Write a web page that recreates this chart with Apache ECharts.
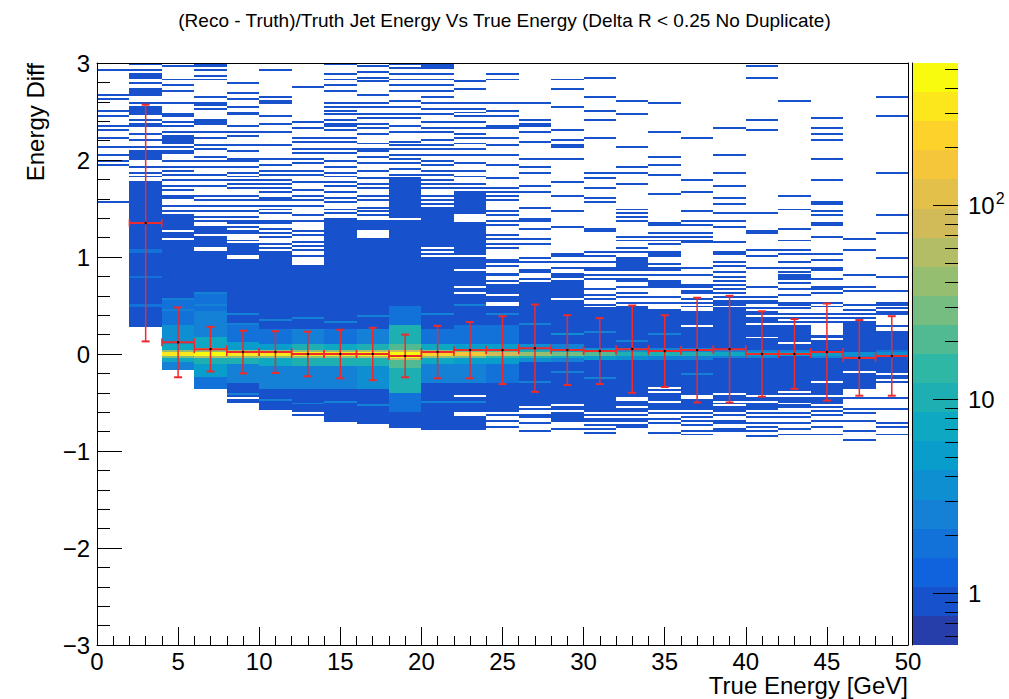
<!DOCTYPE html>
<html><head><meta charset="utf-8">
<script src="https://cdn.jsdelivr.net/npm/echarts@6/dist/echarts.min.js"></script>
<style>html,body{margin:0;padding:0;background:#fff}#c{width:1009px;height:699px}</style>
</head><body><div id="c"></div>
<script>
const FONT = "'Liberation Sans', Arial, Helvetica, sans-serif";

// ---- binning ----
const xBinLow = [0,2,4,6,8,10,12,14,16,18,20,22,24,26,28,30,32,34,36,38,40,42,44,46,48];
const X_BIN_WIDTH = 2;
const Y_BIN_WIDTH = 0.02;
const xRange = [0, 50];
const yRange = [-3, 3];

// ---- 2D histogram content (per x bin) ----
// solid region filled with 1 entry per y bin
const solidRange = [
  null,[0.28,1.77],[-0.15,1.40],[-0.36,1.30],[-0.50,1.12],[-0.58,1.04],[-0.64,0.88],[-0.69,1.39],
  [-0.71,1.35],[-0.75,1.80],[-0.77,1.51],[-0.77,1.66],[-0.64,0.70],[-0.66,0.73],[-0.70,0.74],
  [-0.70,0.44],[-0.60,0.49],[-0.55,0.45],[-0.58,0.43],[-0.60,0.50],[-0.58,0.36],[-0.50,0.26],
  [-0.50,0.12],[-0.33,0.30],[-0.26,0.22]
];
// empty y bins inside the solid region
const gapLines = [
  [],[],[1.26,1.18],[1.22,1.08,1.06,-0.34],[1.01,0.98,-0.46],[],[-0.62],[],
  [1.26,1.24,1.22,1.20],[1.38],[1.08,1.04,1.00],[1.42,1.40,1.38,1.36,1.00,0.86,0.69,0.63,-0.43,-0.62,-0.64],
  [0.61,0.52,0.50,-0.62],[-0.55,-0.59,-0.61],[0.57,-0.53,-0.60],[-0.62,-0.66],[-0.45,-0.47,-0.55],
  [-0.36,-0.40,-0.50],[0.29,-0.43,-0.46],[0.48,-0.41,-0.50,-0.54],[0.31,0.17,-0.43,-0.50],
  [0.10,-0.40,-0.44],[-0.30,-0.43],[-0.20],[-0.22]
];
// isolated single-entry y bins
const sparseLines = [
  [2.92,2.66,2.62,2.51,2.44,2.35,2.30,2.22,2.13,2.04,1.99,1.94,1.56],
  [2.99,2.93,2.88,2.86,2.84,2.78,2.72,2.70,2.68,2.66,2.59,2.55,2.53,2.51,2.49,2.47,2.41,2.37,2.34,2.27,2.21,2.13,2.09,2.07,2.05,2.03,2.01,1.92,1.86,1.82],
  [2.97,2.82,2.77,2.70,2.58,2.47,2.44,2.39,2.35,2.29,2.24,2.22,2.20,2.18,2.16,2.13,2.08,2.06,1.98,1.92,1.89,1.84,1.79,1.72,1.68,1.63,1.60,1.53,1.46,1.43],
  [2.99,2.97,2.92,2.87,2.82,2.65,2.59,2.56,2.53,2.40,2.38,2.36,2.29,2.23,2.15,2.10,2.03,1.98,1.92,1.85,1.79,1.72,1.63,1.58,1.53,1.46,1.41,1.36],
  [2.78,2.68,2.63,2.54,2.49,2.46,2.35,2.29,2.25,2.15,2.08,2.01,1.98,1.92,1.87,1.82,1.79,1.74,1.70,1.63,1.58,1.53,1.46,1.41,1.37,1.34,1.30,1.27,1.24,1.17],
  [2.92,2.65,2.61,2.58,2.44,2.37,2.29,2.15,2.01,1.94,1.89,1.84,1.79,1.74,1.70,1.67,1.61,1.58,1.53,1.49,1.44,1.37,1.34,1.29,1.24,1.20,1.12,1.08],
  [2.75,2.39,2.32,2.23,2.18,2.11,2.06,2.01,1.96,1.89,1.84,1.77,1.68,1.63,1.58,1.53,1.43,1.36,1.27,1.22,1.15,1.10,1.06,1.01,0.91],
  [2.99,2.89,2.83,2.77,2.70,2.59,2.54,2.51,2.46,2.40,2.37,2.34,2.30,2.23,2.18,2.11,2.06,1.99,1.92,1.87,1.82,1.77,1.72,1.67,1.61,1.56,1.49,1.44],
  [2.97,2.90,2.85,2.80,2.66,2.59,2.54,2.47,2.42,2.37,2.32,2.27,2.17,2.11,2.08,2.03,1.96,1.89,1.80,1.75,1.70,1.63,1.58,1.51,1.46,1.43,1.37],
  [2.99,2.94,2.89,2.83,2.77,2.70,2.61,2.54,2.47,2.42,2.35,2.29,2.18,2.15,2.10,2.04,2.01,1.96,1.91,1.84],
  [2.99,2.97,2.95,2.89,2.83,2.77,2.70,2.65,2.58,2.53,2.46,2.39,2.32,2.29,2.20,2.15,2.10,2.04,1.99,1.94,1.89,1.84,1.79,1.74,1.70,1.63,1.58,1.55],
  [2.80,2.73,2.59,2.53,2.49,2.44,2.39,2.32,2.27,2.22,2.16,2.10,2.04,1.96,1.89,1.82,1.75,1.70],
  [2.89,2.82,2.59,2.50,2.44,2.35,2.32,2.23,2.14,2.05,1.94,1.80,1.70,1.67,1.62,1.58,1.46,1.43,1.36,1.32,1.22,1.19,1.12,1.09,0.96,0.94,0.91,0.82,0.81,0.74,-0.70,-0.76],
  [2.58,2.41,2.37,2.34,2.28,2.18,2.01,1.92,1.86,1.73,1.67,1.51,1.39,1.36,1.29,1.19,1.12,0.98,0.95,0.86,0.84,0.77,-0.72,-0.79],
  [2.82,2.72,2.54,2.31,2.21,2.14,2.12,2.00,1.77,1.63,1.46,1.31,1.03,1.00,0.95,0.88,0.82,0.80,0.78,-0.77],
  [2.85,2.65,2.50,2.41,2.22,1.87,1.80,1.70,1.60,1.56,1.28,1.26,1.05,1.01,0.95,0.89,0.86,0.81,0.77,0.67,0.60,0.57,0.50,0.46,-0.74,-0.78,-0.81],
  [2.60,2.46,2.12,1.92,1.86,1.74,1.49,1.44,1.41,1.36,1.21,1.17,1.08,1.05,0.98,0.96,0.94,0.92,0.90,0.88,0.86,0.81,0.77,0.74,0.69,0.62,0.58,0.52,-0.63,-0.67,-0.70,-0.73,-0.76],
  [2.59,2.28,2.02,1.95,1.85,1.64,1.35,1.32,1.24,1.20,1.17,1.12,1.04,1.02,1.00,0.93,0.89,0.86,0.81,0.74,0.72,0.70,0.68,0.58,0.52,-0.58,-0.62,-0.68,-0.72,-0.82],
  [2.22,1.79,1.67,1.46,1.37,1.32,1.24,1.20,1.17,1.14,0.89,0.81,0.70,0.68,0.65,0.62,0.56,0.52,0.48,-0.62,-0.65,-0.70,-0.74,-0.79,-0.84],
  [2.33,2.05,1.87,1.72,1.60,1.54,1.45,1.36,1.31,1.15,1.04,1.02,0.94,0.90,0.85,0.78,0.74,0.70,0.67,0.62,0.58,0.55,0.53,-0.64,-0.69,-0.72,-0.77,-0.80],
  [2.97,2.85,2.40,2.30,1.44,1.26,1.24,1.06,1.01,0.88,0.69,0.58,0.55,0.53,0.46,0.43,0.40,-0.62,-0.66,-0.71,-0.75,-0.80,-0.86],
  [2.60,1.62,1.48,1.29,1.17,1.07,1.03,0.94,0.88,0.84,0.81,0.79,0.77,0.72,0.67,0.60,0.53,0.50,0.46,0.40,0.36,0.33,0.28,-0.53,-0.56,-0.61,-0.66,-0.71,-0.77,-0.84],
  [2.43,2.33,2.27,2.20,2.00,1.79,1.56,1.55,1.47,1.43,1.35,1.32,1.20,1.02,0.96,0.89,0.86,0.76,0.69,0.67,0.62,0.53,0.48,0.40,0.36,0.33,0.19,0.16,-0.52,-0.55,-0.60,-0.64,-0.70,-0.76,-0.84],
  [1.19,1.07,0.81,0.69,0.68,0.65,0.50,0.45,0.40,0.36,0.33,-0.36,-0.46,-0.57,-0.62,-0.70,-0.79,-0.89],
  [2.64,2.44,1.87,1.43,1.24,0.98,0.79,0.64,0.53,0.50,0.46,0.43,0.40,0.29,-0.29,-0.46,-0.57,-0.72,-0.76,-0.84]
];
// [yLow, yHigh, entries per y bin] for the denser parts
const coreBands = [
  [],
  [[1.04,1.08,2],[0.48,0.52,2],[0.78,0.80,2]],
  [[0.56,0.58,3],[0.44,0.46,3],[0.30,0.56,2],[0.10,0.30,4],[0.04,0.10,8],[0.02,0.04,35],[-0.02,0.02,300],[-0.04,-0.02,30],[-0.08,-0.04,7],[-0.16,-0.08,3]],
  [[0.62,0.64,3],[0.50,0.52,3],[0.44,0.62,2],[0.18,0.44,3],[0.06,0.18,8],[0.02,0.06,40],[-0.02,0.02,450],[-0.04,-0.02,60],[-0.10,-0.04,12],[-0.24,-0.10,5],[-0.36,-0.24,2]],
  [[0.40,0.42,3],[0.30,0.32,3],[0.12,0.30,2],[0.04,0.12,6],[0.02,0.04,40],[-0.02,0.02,380],[-0.04,-0.02,45],[-0.10,-0.04,9],[-0.30,-0.10,3],[-0.42,-0.40,3]],
  [[0.34,0.36,3],[0.10,0.26,2],[0.04,0.10,6],[0.02,0.04,40],[-0.02,0.02,320],[-0.04,-0.02,40],[-0.12,-0.04,8],[-0.36,-0.12,3],[-0.48,-0.46,3]],
  [[0.36,0.38,3],[0.10,0.26,3],[0.04,0.10,9],[0.02,0.04,45],[-0.02,0.02,320],[-0.04,-0.02,45],[-0.12,-0.04,10],[-0.36,-0.12,3],[-0.52,-0.50,3]],
  [[0.32,0.34,3],[0.10,0.26,2],[0.04,0.10,7],[0.02,0.04,40],[-0.02,0.02,300],[-0.04,-0.02,40],[-0.12,-0.04,9],[-0.36,-0.12,3],[-0.50,-0.48,3]],
  [[0.38,0.40,3],[0.10,0.26,3],[0.04,0.10,10],[0.02,0.04,60],[-0.02,0.02,420],[-0.04,-0.02,60],[-0.12,-0.04,12],[-0.36,-0.12,4],[-0.54,-0.52,3]],
  [[0.30,0.50,2],[0.10,0.30,10],[0.04,0.10,22],[0.02,0.04,90],[-0.04,0.02,480],[-0.06,-0.04,90],[-0.14,-0.06,22],[-0.40,-0.14,10],[-0.60,-0.40,2]],
  [[0.40,0.42,3],[0.10,0.26,2],[0.04,0.10,7],[0.02,0.04,40],[-0.02,0.02,260],[-0.04,-0.02,35],[-0.10,-0.04,7],[-0.30,-0.10,3],[-0.50,-0.48,3]],
  [[0.10,0.30,2],[0.04,0.10,6],[0.02,0.04,30],[-0.02,0.02,160],[-0.04,-0.02,25],[-0.10,-0.04,6],[-0.30,-0.10,3],[0.50,0.52,3],[-0.50,-0.48,3]],
  [[0.10,0.30,2],[0.04,0.10,5],[0.02,0.04,20],[-0.02,0.02,90],[-0.04,-0.02,15],[-0.10,-0.04,5],[-0.30,-0.10,2],[0.40,0.42,3]],
  [[0.04,0.10,4],[0.02,0.04,10],[-0.02,0.02,40],[-0.04,-0.02,10],[-0.08,-0.04,4],[0.30,0.32,3],[-0.30,-0.28,3]],
  [[0.04,0.10,3],[0.02,0.04,8],[-0.02,0.02,25],[-0.04,-0.02,8],[-0.08,-0.04,3],[0.20,0.22,4],[-0.20,-0.18,3]],
  [[0.02,0.06,4],[-0.02,0.02,18],[-0.06,-0.02,5],[0.22,0.24,3],[-0.26,-0.24,3]],
  [[0.02,0.06,4],[-0.02,0.02,12],[-0.06,-0.02,4],[0.12,0.14,3]],
  [[0.02,0.06,3],[-0.02,0.02,10],[-0.06,-0.02,3],[0.20,0.22,3]],
  [[0.02,0.06,3],[-0.02,0.02,9],[-0.06,-0.02,3],[-0.22,-0.20,3]],
  [[0.02,0.04,3],[-0.02,0.02,7],[-0.04,-0.02,3]],
  [[0.02,0.04,3],[-0.02,0.02,6],[-0.04,-0.02,3]],
  [[-0.02,0.02,5],[0.02,0.04,3]],
  [[-0.02,0.02,5],[-0.04,-0.02,3]],
  [[-0.02,0.02,4],[-0.04,-0.02,3]],
  [[-0.02,0.02,4],[0.02,0.04,2]]
];

// ---- profile (red points) ----
const profileX    = [3,5,7,9,11,13,15,17,19,21,23,25,27,29,31,33,35,37,39,41,43,45,47,49];
const profileMean = [1.35,0.12,0.05,0.02,0.02,0.00,0.00,0.00,-0.02,0.02,0.04,0.04,0.06,0.04,0.03,0.05,0.03,0.04,0.05,0.00,0.00,0.02,-0.04,-0.02];
const profileErr  = [1.22,0.36,0.23,0.22,0.215,0.23,0.25,0.27,0.22,0.27,0.29,0.35,0.45,0.36,0.34,0.45,0.37,0.54,0.55,0.44,0.36,0.50,0.39,0.41];

// ---- colour scale ----
const zRange = [0.54, 540];
const zBands = 20;
const zMajorTicks = [1, 10, 100];
const zMinorTicks = [0.6,0.7,0.8,0.9,2,3,4,5,6,7,8,9,20,30,40,50,60,70,80,90,200,300,400,500];
const zTickLabels = {1:'1', 10:'10', 100:'10{sup|2}'};

// kBird palette
const birdStops=[0,0.125,0.25,0.375,0.5,0.625,0.75,0.875,1];
const birdR=[0.2082,0.0592,0.0780,0.0232,0.1802,0.5301,0.8186,0.9956,0.9764];
const birdG=[0.1664,0.3599,0.5041,0.6419,0.7178,0.7492,0.7328,0.7862,0.9832];
const birdB=[0.5293,0.8684,0.8385,0.7914,0.6425,0.4662,0.3499,0.1968,0.0539];
function bird(p){
  p=Math.max(0,Math.min(1,p));
  let i=0; while(i<birdStops.length-2 && p>birdStops[i+1]) i++;
  const t=(p-birdStops[i])/(birdStops[i+1]-birdStops[i]);
  const f=a=>Math.round(255*(a[i]+t*(a[i+1]-a[i])));
  return 'rgb('+f(birdR)+','+f(birdG)+','+f(birdB)+')';
}
const lzMin=Math.log10(zRange[0]), lzMax=Math.log10(zRange[1]);
function bandColor(i){ return bird((i+1)/zBands); }
function countColor(c){
  let b=Math.floor((Math.log10(c)-lzMin)/((lzMax-lzMin)/zBands));
  b=Math.max(0,Math.min(zBands-1,b));
  return bandColor(b);
}

// ---- build cells ----
const NY = Math.round((yRange[1]-yRange[0])/Y_BIN_WIDTH);
function yIdx(y){ return Math.floor((y-yRange[0])/Y_BIN_WIDTH + 1e-6); }
const cellRuns=[];
xBinLow.forEach((x0,ci)=>{
  const col=new Array(NY).fill(0);
  const s=solidRange[ci];
  if(s) for(let k=yIdx(s[0]);k<=yIdx(s[1]);k++) col[k]=1;
  gapLines[ci].forEach(y=>{col[yIdx(y)]=0;});
  sparseLines[ci].forEach(y=>{const k=yIdx(y); col[k]=Math.max(col[k],1);});
  // later bands never overwrite an earlier band of the same column
  const set=new Array(NY).fill(false);
  coreBands[ci].forEach(([a,b,c])=>{for(let k=yIdx(a);k<yIdx(b);k++){ if(!set[k]){col[k]=c;set[k]=true;} }});
  let k=0;
  while(k<NY){
    if(!col[k]){k++;continue;}
    let e=k; while(e+1<NY && col[e+1]===col[k]) e++;
    cellRuns.push([x0,x0+X_BIN_WIDTH,yRange[0]+k*Y_BIN_WIDTH,yRange[0]+(e+1)*Y_BIN_WIDTH,col[k]]);
    k=e+1;
  }
});
const profileData=profileX.map((x,i)=>[x,profileMean[i],profileErr[i]]);
const bandData=[]; for(let i=0;i<zBands;i++) bandData.push([i]);
const zTickData=zMajorTicks.map(v=>[v,1]).concat(zMinorTicks.map(v=>[v,0]));

const chart=echarts.init(document.getElementById('c'),null,{renderer:'svg'});
const axisBlack={color:'#000',width:1};
const RED='#ef2a2a';
chart.setOption({
  animation:false,
  backgroundColor:'#fff',
  title:{text:'(Reco - Truth)/Truth Jet Energy Vs True Energy (Delta R < 0.25 No Duplicate)',
    left:'center',top:6,textStyle:{fontSize:19,fontWeight:'normal',fontFamily:FONT,color:'#000'}},
  grid:[{left:97,top:63,width:811,height:582},{left:912,top:63,width:46,height:582}],
  xAxis:[
    {gridIndex:0,type:'value',min:xRange[0],max:xRange[1],interval:5,position:'bottom',z:10,
     axisLine:{show:true,onZero:false,lineStyle:axisBlack},
     axisTick:{show:true,inside:true,length:18,lineStyle:axisBlack},
     minorTick:{show:true,splitNumber:5,length:9,lineStyle:axisBlack},
     splitLine:{show:false},
     axisLabel:{fontSize:24,lineHeight:22,color:'#000',fontFamily:FONT,margin:5}},
    {gridIndex:0,type:'value',min:xRange[0],max:xRange[1],position:'top',z:10,
     axisLine:{show:true,onZero:false,lineStyle:axisBlack},axisTick:{show:false},axisLabel:{show:false},splitLine:{show:false}},
    {gridIndex:1,type:'value',min:0,max:1,show:false}
  ],
  yAxis:[
    {gridIndex:0,type:'value',min:yRange[0],max:yRange[1],interval:1,position:'left',z:10,
     axisLine:{show:true,onZero:false,lineStyle:axisBlack},
     axisTick:{show:true,inside:true,length:25,lineStyle:axisBlack},
     minorTick:{show:true,splitNumber:5,length:13,lineStyle:axisBlack},
     splitLine:{show:false},
     axisLabel:{fontSize:24,color:'#000',fontFamily:FONT,margin:7,
       formatter:v=>v<0?'\u2212'+Math.abs(v):String(v)}},
    {gridIndex:0,type:'value',min:yRange[0],max:yRange[1],position:'right',z:10,
     axisLine:{show:true,onZero:false,lineStyle:axisBlack},axisTick:{show:false},axisLabel:{show:false},splitLine:{show:false}},
    {gridIndex:1,type:'log',logBase:10,min:zRange[0],max:zRange[1],position:'right',z:10,
     axisLine:{show:true,lineStyle:axisBlack},axisTick:{show:false},splitLine:{show:false},
     axisLabel:{fontSize:24,color:'#000',fontFamily:FONT,margin:10,showMinLabel:false,showMaxLabel:false,
       formatter:v=>{const k=Math.round(v);return zTickLabels[k]!==undefined&&Math.abs(v-k)<1e-6?zTickLabels[k]:'';},
       rich:{sup:{fontSize:16,fontFamily:FONT,color:'#000',padding:[0,0,14,1]}}}}
  ],
  graphic:[
    {type:'text',x:908,y:697,z:20,style:{text:'True Energy [GeV]',font:'24px '+FONT,lineHeight:23,fill:'#000',align:'right',verticalAlign:'bottom'}},
    {type:'text',x:35,y:63,rotation:Math.PI/2,z:20,style:{text:'Energy Diff',font:'24px '+FONT,fill:'#000',align:'right',verticalAlign:'middle'}}
  ],
  series:[
    {type:'custom',name:'hist',xAxisIndex:0,yAxisIndex:0,z:1,clip:true,
     data:cellRuns,encode:{x:[0,1],y:[2,3]},
     renderItem:(params,api)=>{
       const p0=api.coord([api.value(0),api.value(3)]);
       const p1=api.coord([api.value(1),api.value(2)]);
       const x=Math.round(p0[0]),y=Math.round(p0[1]);
       const w=Math.round(p1[0])-x,h=Math.max(1,Math.round(p1[1])-y);
       return {type:'rect',shape:{x:x,y:y,width:w,height:h},style:{fill:countColor(api.value(4))}};
     }},
    {type:'custom',name:'profile',xAxisIndex:0,yAxisIndex:0,z:5,
     data:profileData,encode:{x:0,y:1},
     renderItem:(params,api)=>{
       const x=api.value(0),m=api.value(1),e=api.value(2);
       const c=api.coord([x,m]),t=api.coord([x,m+e]),b=api.coord([x,m-e]);
       const l=api.coord([x-X_BIN_WIDTH/2,m]),r=api.coord([x+X_BIN_WIDTH/2,m]);
       const cap=4;
       const ln=(x1,y1,x2,y2,w)=>({type:'line',shape:{x1,y1,x2,y2},style:{stroke:RED,lineWidth:w||1.5}});
       return {type:'group',children:[
         ln(t[0],t[1],b[0],b[1]),
         ln(t[0]-cap,t[1],t[0]+cap,t[1],2),
         ln(b[0]-cap,b[1],b[0]+cap,b[1],2),
         ln(l[0],l[1],r[0],r[1],2),
         ln(l[0],l[1]-cap,l[0],l[1]+cap),
         ln(r[0],r[1]-cap,r[0],r[1]+cap),
         {type:'circle',shape:{cx:c[0],cy:c[1],r:1.2},style:{fill:'#000'}}
       ]};
     }},
    {type:'custom',name:'palette',xAxisIndex:2,yAxisIndex:2,z:1,
     data:bandData,encode:{x:0,y:0},
     renderItem:(params,api)=>{
       const i=api.value(0);
       const lo=Math.pow(10,lzMin+i*(lzMax-lzMin)/zBands), hi=Math.pow(10,lzMin+(i+1)*(lzMax-lzMin)/zBands);
       const p0=api.coord([0,hi]),p1=api.coord([1,lo]);
       const y0=Math.round(p0[1]),y1=Math.round(p1[1]);
       return {type:'rect',shape:{x:p0[0],y:y0,width:p1[0]-p0[0],height:y1-y0},style:{fill:bandColor(i)}};
     }},
    {type:'custom',name:'paletteTicks',xAxisIndex:2,yAxisIndex:2,z:6,
     data:zTickData,encode:{y:0},
     renderItem:(params,api)=>{
       const p=api.coord([1,api.value(0)]);
       const len=api.value(1)?25:13;
       const y=Math.round(p[1])+0.5;
       return {type:'line',shape:{x1:p[0]-len,y1:y,x2:p[0],y2:y},style:{stroke:'#000',lineWidth:1}};
     }}
  ]
});
</script></body></html>
